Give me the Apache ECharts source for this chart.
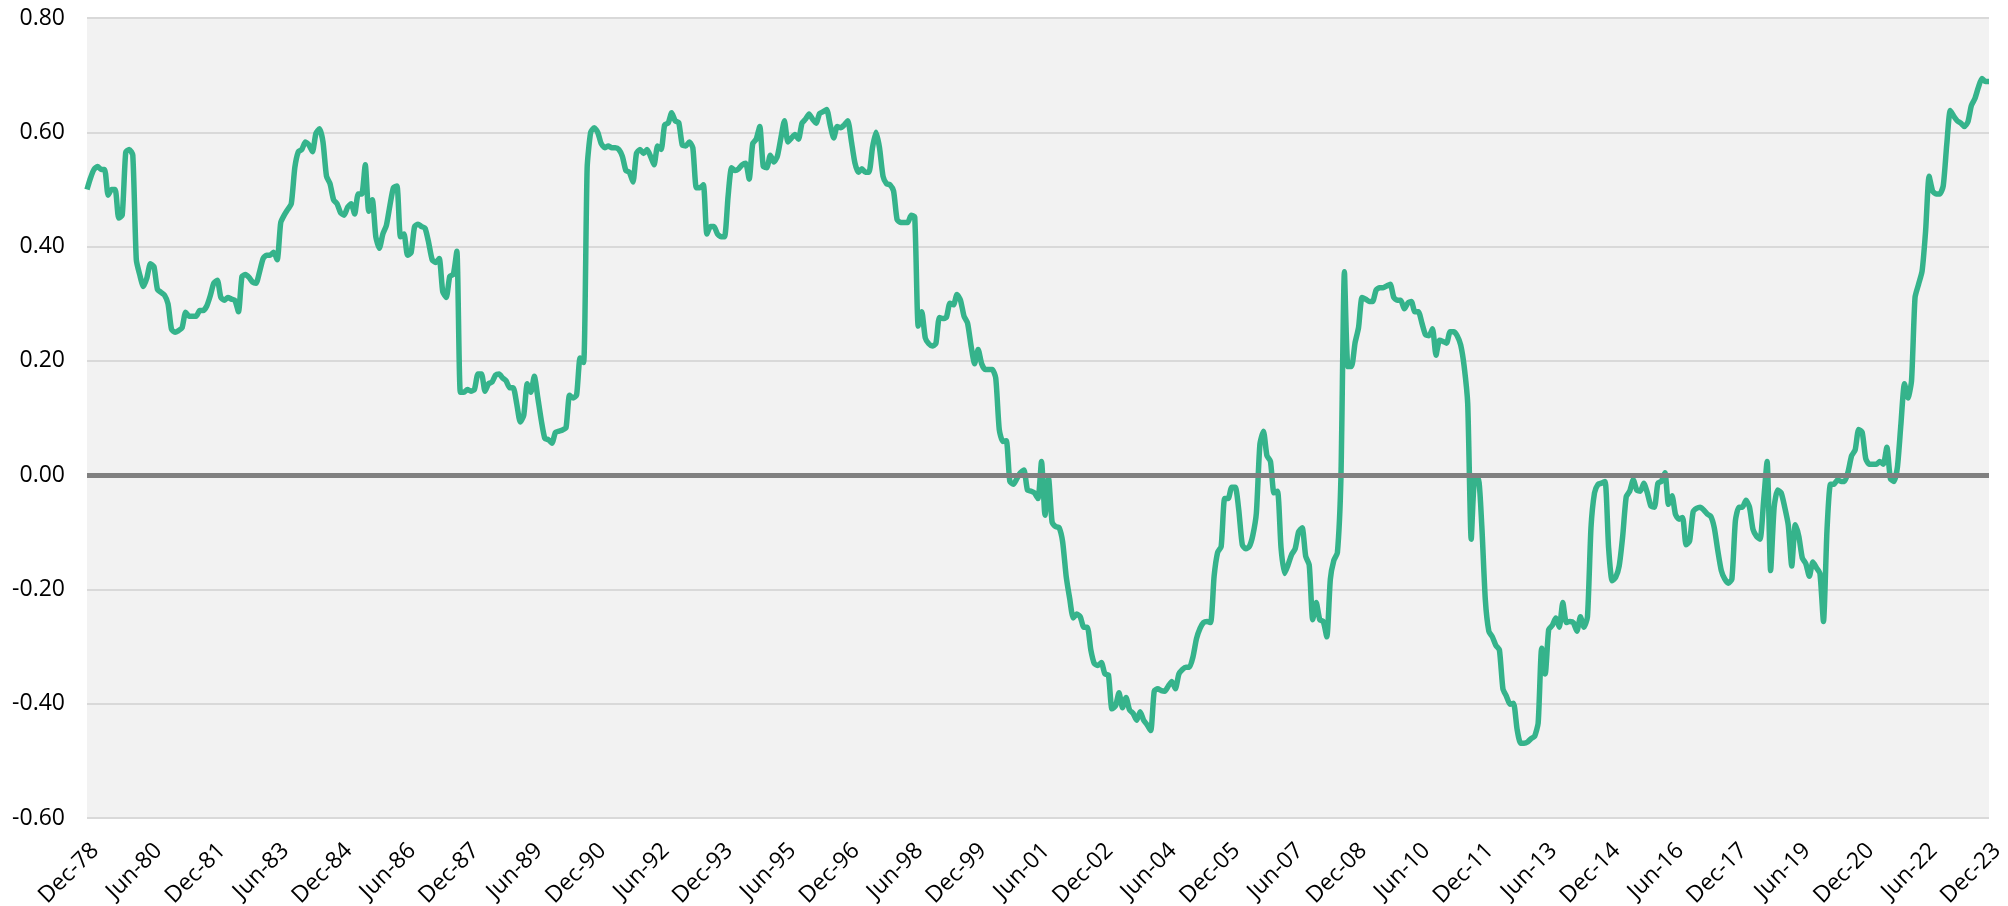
<!DOCTYPE html>
<html>
<head>
<meta charset="utf-8">
<script src="https://cdn.jsdelivr.net/npm/echarts/dist/echarts.min.js"></script>
<style>
  html, body { margin: 0; padding: 0; background: #fff; }
  #chart { width: 2008px; height: 906px; }
</style>
</head>
<body>
<div id="chart"></div>
<script>
// monthly values, Dec-78 .. Dec-23
const values1978_1989 = [
  0.50, 0.52, 0.535, 0.54, 0.535, 0.535, 0.49, 0.50, 0.50, 0.45, 0.455, 0.565, 0.57,
  0.56, 0.377, 0.35, 0.33, 0.345, 0.37, 0.365, 0.325, 0.32, 0.315, 0.30, 0.255,
  0.25, 0.253, 0.258, 0.285, 0.278, 0.278, 0.278, 0.288, 0.288, 0.296, 0.314, 0.336,
  0.341, 0.311, 0.306, 0.311, 0.308, 0.306, 0.286, 0.348, 0.351, 0.346, 0.338, 0.336,
  0.356, 0.379, 0.385, 0.385, 0.39, 0.377, 0.442, 0.455, 0.465, 0.475, 0.538, 0.566,
  0.57, 0.583, 0.578, 0.566, 0.598, 0.606, 0.583, 0.523, 0.51, 0.482, 0.475, 0.459,
  0.455, 0.469, 0.475, 0.457, 0.492, 0.492, 0.543, 0.462, 0.482, 0.417, 0.397, 0.422,
  0.437, 0.472, 0.503, 0.506, 0.417, 0.422, 0.385, 0.389, 0.435, 0.439, 0.435, 0.432,
  0.407, 0.377, 0.372, 0.379, 0.321, 0.311, 0.348, 0.351, 0.392, 0.145, 0.145, 0.15,
  0.147, 0.15, 0.177, 0.177, 0.147, 0.16, 0.163, 0.175, 0.177, 0.17, 0.165, 0.153,
  0.153, 0.125, 0.093, 0.105, 0.16, 0.145, 0.173, 0.135, 0.095, 0.064, 0.062, 0.056
];
const values1990s = [
  0.075, 0.077, 0.079, 0.083, 0.14, 0.135, 0.14, 0.205, 0.197, 0.538, 0.60, 0.608,
  0.60, 0.58, 0.573, 0.576, 0.573, 0.573, 0.57, 0.558, 0.533, 0.53, 0.513, 0.563,
  0.57, 0.563, 0.57, 0.558, 0.543, 0.576, 0.57, 0.613, 0.616, 0.634, 0.62, 0.617,
  0.578, 0.576, 0.583, 0.573, 0.503, 0.503, 0.508, 0.422, 0.435, 0.435, 0.422, 0.417,
  0.417, 0.487, 0.538, 0.533, 0.536, 0.543, 0.546, 0.518, 0.58, 0.588, 0.61, 0.54,
  0.538, 0.56, 0.548, 0.558, 0.59, 0.62, 0.583, 0.59, 0.596, 0.588, 0.616, 0.623,
  0.632, 0.623, 0.616, 0.633, 0.636, 0.64, 0.613, 0.59, 0.61, 0.608, 0.613, 0.62,
  0.585, 0.547, 0.53, 0.536, 0.53, 0.53, 0.573, 0.60, 0.573, 0.523, 0.51, 0.508,
  0.497, 0.447, 0.442, 0.442, 0.442, 0.455, 0.452, 0.261, 0.286, 0.24, 0.23, 0.226,
  0.23, 0.276, 0.274, 0.276, 0.301, 0.298, 0.316, 0.306, 0.278, 0.266, 0.226, 0.195
];
const values2000s = [
  0.22, 0.195, 0.185, 0.185, 0.185, 0.17, 0.08, 0.059, 0.06, -0.011, -0.016, -0.006,
  0.004, 0.009, -0.026, -0.028, -0.031, -0.041, 0.024, -0.07, -0.006, -0.082, -0.09, -0.092,
  -0.117, -0.177, -0.216, -0.25, -0.243, -0.248, -0.266, -0.266, -0.306, -0.33, -0.333, -0.328,
  -0.348, -0.35, -0.409, -0.404, -0.381, -0.407, -0.389, -0.411, -0.417, -0.429, -0.414, -0.429,
  -0.437, -0.447, -0.378, -0.374, -0.377, -0.378, -0.369, -0.361, -0.374, -0.348, -0.34, -0.336,
  -0.336, -0.318, -0.286, -0.268, -0.258, -0.256, -0.258, -0.177, -0.135, -0.125, -0.041, -0.041,
  -0.021, -0.021, -0.061, -0.122, -0.129, -0.125, -0.105, -0.066, 0.054, 0.077, 0.034, 0.024,
  -0.031, -0.028, -0.127, -0.172, -0.157, -0.139, -0.129, -0.099, -0.092, -0.142, -0.157, -0.253,
  -0.223, -0.253, -0.256, -0.283, -0.182, -0.149, -0.136, -0.006, 0.356, 0.19, 0.19, 0.231,
  0.258, 0.311, 0.308, 0.304, 0.304, 0.324, 0.328, 0.328, 0.331, 0.334, 0.311, 0.306
];
const values2010s = [
  0.306, 0.291, 0.301, 0.304, 0.286, 0.286, 0.266, 0.246, 0.244, 0.256, 0.21, 0.236,
  0.234, 0.231, 0.251, 0.251, 0.244, 0.228, 0.19, 0.125, -0.112, -0.006, -0.006, -0.089,
  -0.218, -0.273, -0.283, -0.298, -0.306, -0.374, -0.387, -0.401, -0.399, -0.444, -0.469, -0.469,
  -0.467, -0.461, -0.457, -0.434, -0.303, -0.348, -0.27, -0.263, -0.25, -0.266, -0.223, -0.258,
  -0.256, -0.258, -0.273, -0.248, -0.266, -0.248, -0.092, -0.031, -0.016, -0.014, -0.011, -0.127,
  -0.185, -0.179, -0.159, -0.107, -0.038, -0.028, -0.008, -0.026, -0.028, -0.014, -0.031, -0.054,
  -0.056, -0.014, -0.011, 0.004, -0.051, -0.036, -0.069, -0.077, -0.074, -0.122, -0.115, -0.064,
  -0.058, -0.056, -0.061, -0.068, -0.072, -0.092, -0.132, -0.167, -0.182, -0.189, -0.182, -0.08,
  -0.056, -0.056, -0.044, -0.056, -0.095, -0.107, -0.112, -0.046, 0.024, -0.167, -0.056, -0.026,
  -0.031, -0.056, -0.087, -0.159, -0.087, -0.107, -0.145, -0.155, -0.177, -0.152, -0.162, -0.172
];
const values2020s = [
  -0.256, -0.097, -0.016, -0.016, -0.008, -0.011, -0.011, 0.006, 0.034, 0.044, 0.08, 0.075,
  0.029, 0.019, 0.019, 0.019, 0.024, 0.019, 0.049, -0.006, -0.011, 0.014, 0.09, 0.16,
  0.135, 0.165, 0.311, 0.334, 0.357, 0.427, 0.523, 0.497, 0.492, 0.492, 0.506, 0.578,
  0.638, 0.628, 0.62, 0.616, 0.61, 0.618, 0.647, 0.659, 0.679, 0.694, 0.689, 0.689
];

const monthNames = ['Jan', 'Feb', 'Mar', 'Apr', 'May', 'Jun', 'Jul', 'Aug', 'Sep', 'Oct', 'Nov', 'Dec'];
const startYear = 1978;
const startMonth = 11; // Dec
const yTicks = { min: -0.6, max: 0.8, step: 0.2 };

const values = [].concat(values1978_1989, values1990s, values2000s, values2010s, values2020s);

const categories = values.map((v, i) => {
  const m = (startMonth + i) % 12;
  const y = startYear + Math.floor((startMonth + i) / 12);
  return monthNames[m] + '-' + String(y % 100).padStart(2, '0');
});

const chart = echarts.init(document.getElementById('chart'));

const font = 'Open Sans';

chart.setOption({
  animation: false,
  backgroundColor: '#ffffff',
  grid: {
    left: 87,
    right: 19,
    top: 18,
    bottom: 88,
    containLabel: false,
    outerBoundsMode: 'none',
    show: true,
    backgroundColor: '#f2f2f2',
    borderWidth: 0
  },
  xAxis: {
    type: 'category',
    data: categories,
    boundaryGap: false,
    axisLine: { show: false },
    axisTick: { show: false },
    splitLine: { show: false },
    axisLabel: {
      interval: 17,
      rotate: 45,
      margin: 21,
      verticalAlign: 'top',
      color: '#000',
      fontFamily: font,
      fontSize: 23
    }
  },
  yAxis: {
    type: 'value',
    min: yTicks.min,
    max: yTicks.max,
    interval: yTicks.step,
    axisLine: { show: false },
    axisTick: { show: false },
    splitLine: { lineStyle: { color: '#d9d9d9', width: 2 } },
    axisLabel: {
      margin: 22,
      color: '#000',
      fontFamily: font,
      fontSize: 23,
      formatter: v => v.toFixed(2)
    }
  },
  series: [
    {
      // zero line under the main series
      type: 'line',
      data: [],
      z: 1,
      silent: true,
      markLine: {
        silent: true,
        symbol: 'none',
        label: { show: false },
        lineStyle: { color: '#808080', width: 5, type: 'solid' },
        data: [{ yAxis: 0 }]
      }
    },
    {
      type: 'line',
      data: values,
      z: 3,
      showSymbol: false,
      smooth: 0.2,
      lineStyle: { color: '#35b38b', width: 5.5 }
    }
  ]
});
</script>
</body>
</html>
